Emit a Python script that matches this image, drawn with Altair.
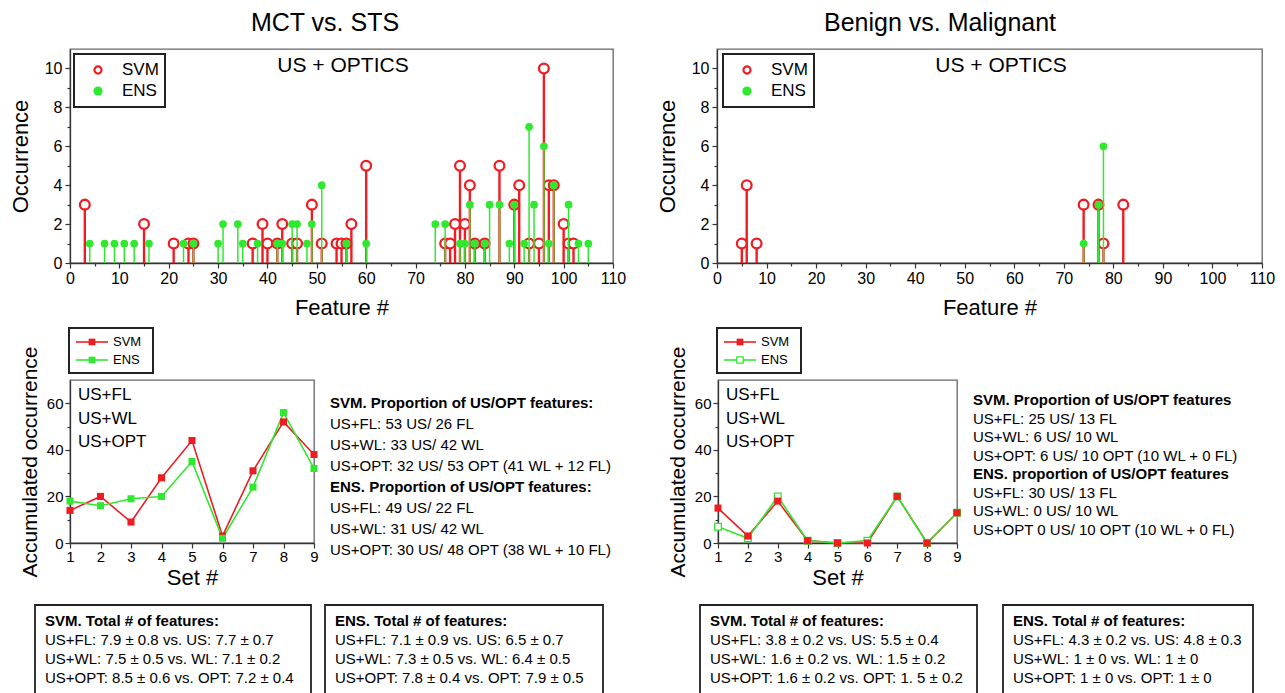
import altair as alt
import pandas as pd

FONT = "Liberation Sans"
RED = "#ee1d24"
GREEN = "#30e830"
FRAME = "#666666"
AXC = "#333333"

# ---------------- data ----------------
# MCT vs. STS  (US + OPTICS)
mct_svm_feature = [3, 15, 21, 24, 25, 37, 39, 40, 42, 43, 45, 46, 49, 51, 54, 55, 56, 57, 60,
                   76, 77, 78, 79, 80, 81, 82, 84, 87, 90, 91, 93, 95, 96, 97, 98, 100, 101, 102]
mct_svm_occ = [3, 2, 1, 1, 1, 1, 2, 1, 1, 2, 1, 1, 3, 1, 1, 1, 1, 2, 5,
               1, 1, 2, 5, 2, 4, 1, 1, 5, 3, 4, 1, 1, 10, 4, 4, 2, 1, 1]
mct_ens_feature = [4, 7, 9, 11, 13, 16, 23, 25, 30, 31, 34, 35, 38, 42, 43, 45, 46, 48, 49, 51,
                   56, 60, 74, 76, 79, 80, 81, 82, 84, 85, 87, 89, 90, 92, 93, 94, 96, 97, 98, 101,
                   103, 105]
mct_ens_occ = [1, 1, 1, 1, 1, 1, 1, 1, 1, 2, 2, 1, 1, 1, 1, 2, 2, 1, 2, 4,
               1, 1, 2, 2, 1, 1, 3, 1, 1, 3, 3, 1, 3, 1, 7, 3, 6, 1, 4, 3,
               1, 1]

# Benign vs. Malignant (US + OPTICS)
bm_svm_feature = [5, 6, 8, 74, 77, 78, 82]
bm_svm_occ = [1, 4, 1, 3, 3, 1, 3]
bm_ens_feature = [74, 77, 78]
bm_ens_occ = [1, 3, 6]

# Accumulated occurrence per set
sets = [1, 2, 3, 4, 5, 6, 7, 8, 9]
mct_svm_acc = [14, 20, 9, 28, 44, 3, 31, 52, 38]
mct_ens_acc = [18, 16, 19, 20, 35, 2, 24, 56, 32]
bm_svm_acc = [15, 3, 18, 1, 0, 0, 20, 0, 13]
bm_ens_acc = [7, 2, 20, 1, 0, 1, 20, 0, 13]

set_labels = ["US+FL", "US+WL", "US+OPT"]

mct_prop_lines = ["SVM. Proportion of US/OPT features:",
                  "US+FL: 53 US/ 26 FL",
                  "US+WL: 33 US/ 42 WL",
                  "US+OPT: 32 US/ 53 OPT (41 WL + 12 FL)",
                  "ENS. Proportion of US/OPT features:",
                  "US+FL: 49 US/ 22 FL",
                  "US+WL: 31 US/ 42 WL",
                  "US+OPT: 30 US/ 48 OPT (38 WL + 10 FL)"]
bm_prop_lines = ["SVM. Proportion of US/OPT features",
                 "US+FL: 25 US/ 13 FL",
                 "US+WL: 6 US/ 10 WL",
                 "US+OPT: 6 US/ 10 OPT (10 WL + 0 FL)",
                 "ENS. proportion of US/OPT features",
                 "US+FL: 30 US/ 13 FL",
                 "US+WL: 0 US/ 10 WL",
                 "US+OPT 0 US/ 10 OPT (10 WL + 0 FL)"]

box_mct_svm = ["SVM. Total # of features:",
               "US+FL: 7.9 \u00b1 0.8 vs. US: 7.7 \u00b1 0.7",
               "US+WL: 7.5 \u00b1 0.5 vs. WL: 7.1 \u00b1 0.2",
               "US+OPT: 8.5 \u00b1 0.6 vs. OPT: 7.2 \u00b1 0.4"]
box_mct_ens = ["ENS. Total # of features:",
               "US+FL: 7.1 \u00b1 0.9 vs. US: 6.5 \u00b1 0.7",
               "US+WL: 7.3 \u00b1 0.5 vs. WL: 6.4 \u00b1 0.5",
               "US+OPT: 7.8 \u00b1 0.4 vs. OPT: 7.9 \u00b1 0.5"]
box_bm_svm = ["SVM. Total # of features:",
              "US+FL: 3.8 \u00b1 0.2 vs. US: 5.5 \u00b1 0.4",
              "US+WL: 1.6 \u00b1 0.2 vs. WL: 1.5 \u00b1 0.2",
              "US+OPT: 1.6 \u00b1 0.2 vs. OPT: 1. 5 \u00b1 0.2"]
box_bm_ens = ["ENS. Total # of features:",
              "US+FL: 4.3 \u00b1 0.2 vs. US: 4.8 \u00b1 0.3",
              "US+WL: 1 \u00b1 0 vs. WL: 1 \u00b1 0",
              "US+OPT: 1 \u00b1 0 vs. OPT: 1 \u00b1 0"]

ONE = pd.DataFrame({"k": [0]})


# ---------------- helpers ----------------
def text_at(s, x, y, size, bold=False, align="left", color="black"):
    props = dict(text=s, font=FONT, fontSize=size, align=align, baseline="middle", color=color)
    if bold:
        props["fontWeight"] = "bold"
    return alt.Chart(ONE).mark_text(**props).encode(x=alt.value(x), y=alt.value(y))


def box_at(x1, x2, y1, y2, width=1.6):
    return alt.Chart(ONE).mark_rect(fill="white", stroke="#222222", strokeWidth=width).encode(
        x=alt.value(x1), x2=alt.value(x2), y=alt.value(y1), y2=alt.value(y2))


def minor_ticks(mod):
    return {"condition": {"test": f"datum.value % {mod} === 0", "value": 5}, "value": 3}


def stem_panel(svm_f, svm_o, ens_f, ens_o, heading, heading_x, sub_x, leg_x, width):
    sdf = pd.DataFrame({"feature": svm_f, "occ": svm_o})
    edf = pd.DataFrame({"feature": ens_f, "occ": ens_o})
    xs = alt.Scale(domain=[0, 110], nice=False, zero=False)
    ys = alt.Scale(domain=[0, 11], nice=False)
    xaxis = alt.Axis(values=list(range(0, 111, 5)),
                     labelExpr="datum.value % 10 === 0 ? datum.label : ''",
                     tickSize=minor_ticks(10), labelFontSize=16, labelPadding=2,
                     labelOverlap=False, labelFlush=False,
                     title="Feature #", titleFontSize=22, titleY=44, titleBaseline="middle")
    yaxis = alt.Axis(values=list(range(0, 11)),
                     labelExpr="datum.value % 2 === 0 ? datum.label : ''",
                     tickSize=minor_ticks(2), labelFontSize=16, labelPadding=3,
                     labelOverlap=False, labelFlush=False,
                     title="Occurrence", titleFontSize=22, titleX=-50, titleY=107,
                     titleBaseline="middle", titleAngle=-90)
    X = alt.X("feature:Q", scale=xs, axis=xaxis)
    Y = alt.Y("occ:Q", scale=ys, axis=yaxis)
    layers = [
        alt.Chart(sdf).mark_rule(color=RED, strokeWidth=2.4).encode(x=X, y=Y, y2=alt.datum(0)),
        alt.Chart(sdf).mark_point(shape="circle", filled=True, fill="white", stroke=RED,
                                  strokeWidth=2.3, size=95, opacity=1).encode(x=X, y=Y),
        alt.Chart(edf).mark_rule(color=GREEN, strokeWidth=1.5).encode(x=X, y=Y, y2=alt.datum(0)),
        alt.Chart(edf).mark_circle(color=GREEN, size=60, opacity=1).encode(x=X, y=Y),
        box_at(leg_x, leg_x + 91, 5, 58, width=2),
        alt.Chart(ONE).mark_point(shape="circle", filled=True, fill="white", stroke=RED,
                                  strokeWidth=2.2, size=50, opacity=1).encode(
            x=alt.value(leg_x + 24), y=alt.value(21)),
        alt.Chart(ONE).mark_circle(color=GREEN, size=85, opacity=1).encode(
            x=alt.value(leg_x + 24), y=alt.value(42)),
        text_at("SVM", leg_x + 48, 21, 17),
        text_at("ENS", leg_x + 48, 42, 17),
        text_at("US + OPTICS", sub_x, 17, 21, align="center"),
        text_at(heading, heading_x, -26, 25, align="center"),
    ]
    return alt.layer(*layers).properties(width=width, height=214)


def line_panel(svm_v, ens_v, ens_open, width, red_on_top):
    df = pd.DataFrame({"set": sets, "svm": svm_v, "ens": ens_v})
    xs = alt.Scale(domain=[1, 9], nice=False, zero=False)
    ys = alt.Scale(domain=[0, 70], nice=False)
    xaxis = alt.Axis(values=sets, tickSize=5, labelFontSize=15, labelPadding=1,
                     labelOverlap=False, labelFlush=False,
                     title="Set #", titleFontSize=22, titleY=34, titleBaseline="middle")
    yaxis = alt.Axis(values=list(range(0, 70, 10)),
                     labelExpr="datum.value % 20 === 0 ? datum.label : ''",
                     tickSize=minor_ticks(20), labelFontSize=15, labelPadding=2,
                     labelOverlap=False, labelFlush=False,
                     title="Accumulated occurrence", titleFontSize=21, titleX=-40,
                     titleY=81.5, titleBaseline="middle", titleAngle=-90)
    X = alt.X("set:Q", scale=xs, axis=xaxis)
    Ys = alt.Y("svm:Q", scale=ys, axis=yaxis)
    Ye = alt.Y("ens:Q", scale=ys, axis=yaxis)
    red_line = alt.Chart(df).mark_line(color=RED, strokeWidth=1.6).encode(x=X, y=Ys)
    green_line = alt.Chart(df).mark_line(color=GREEN, strokeWidth=1.6).encode(x=X, y=Ye)
    red_pts = alt.Chart(df).mark_point(shape="square", filled=True, color=RED, size=50,
                                       opacity=1).encode(x=X, y=Ys)
    if ens_open:
        green_pts = alt.Chart(df).mark_point(shape="square", filled=True, fill="white",
                                             stroke=GREEN, strokeWidth=1.3, size=45,
                                             opacity=1).encode(x=X, y=Ye)
        leg_green = alt.Chart(ONE).mark_point(shape="square", filled=True, fill="white",
                                              stroke=GREEN, strokeWidth=1.3, size=40, opacity=1)
    else:
        green_pts = alt.Chart(df).mark_point(shape="square", filled=True, color=GREEN, size=50,
                                             opacity=1).encode(x=X, y=Ye)
        leg_green = alt.Chart(ONE).mark_point(shape="square", filled=True, color=GREEN,
                                              size=45, opacity=1)
    leg_red = alt.Chart(ONE).mark_point(shape="square", filled=True, color=RED, size=45, opacity=1)
    pts = [green_pts, red_pts] if red_on_top else [red_pts, green_pts]
    layers = [red_line, green_line] + pts + [
        box_at(-1, 83, -52, -7, width=2),
        alt.Chart(ONE).mark_rule(color=RED, strokeWidth=1.6).encode(
            x=alt.value(6), x2=alt.value(38), y=alt.value(-38)),
        alt.Chart(ONE).mark_rule(color=GREEN, strokeWidth=1.6).encode(
            x=alt.value(6), x2=alt.value(38), y=alt.value(-20)),
        leg_red.encode(x=alt.value(22), y=alt.value(-38)),
        leg_green.encode(x=alt.value(22), y=alt.value(-20)),
        text_at("SVM", 43, -38, 13),
        text_at("ENS", 43, -20, 13),
    ]
    for i, s in enumerate(set_labels):
        layers.append(text_at(s, 8, 15 + i * 23.5, 17))
    return alt.layer(*layers).properties(width=width, height=163)


def text_panel(lines, bold_idx, y0, step, width):
    layers = [text_at(s, 10, y0 + i * step, 15, bold=(i in bold_idx)) for i, s in enumerate(lines)]
    return alt.layer(*layers).properties(width=width, height=163,
                                         view=alt.ViewBackground(stroke=None))


def boxes_panel():
    layers = []
    specs = [(box_mct_svm, -35, 241), (box_mct_ens, 255, 533),
             (box_bm_svm, 630, 907), (box_bm_ens, 933, 1183)]
    for lines, x1, x2 in specs:
        layers.append(box_at(x1, x2, 15, 140, width=1.8))
        for i, s in enumerate(lines):
            layers.append(text_at(s, x1 + 10, 31 + i * 19, 15, bold=(i == 0)))
    return alt.layer(*layers).properties(width=1190, height=100,
                                         view=alt.ViewBackground(stroke=None))


# ---------------- panels ----------------
tl = stem_panel(mct_svm_feature, mct_svm_occ, mct_ens_feature, mct_ens_occ,
                "MCT vs. STS", 255, 273, 4, 543)
tr = stem_panel(bm_svm_feature, bm_svm_occ, bm_ens_feature, bm_ens_occ,
                "Benign vs. Malignant", 223, 284, 6, 545)
bl = line_panel(mct_svm_acc, mct_ens_acc, False, 244, False)
br = line_panel(bm_svm_acc, bm_ens_acc, True, 239, True)
t1 = text_panel(mct_prop_lines, {0, 4}, 23, 21, 392)
t2 = text_panel(bm_prop_lines, {0, 4}, 20, 18.5, 300)

# With flush bounds the nested rows count as zero-height, so the spacing
# values below are the offsets between the tops of the rows.
row1 = alt.hconcat(tl, tr, spacing=104, bounds="flush")
row2 = alt.hconcat(bl, t1, br, t2, spacing=6, bounds="flush")
lower = alt.vconcat(row2, boxes_panel(), spacing=210, bounds="flush")

chart = alt.vconcat(row1, lower, spacing=331, bounds="flush").properties(
    padding={"left": 0, "top": 2, "right": 0, "bottom": 0}
).configure(font=FONT).configure_view(stroke=FRAME, strokeWidth=1.3).configure_axis(
    labelFont=FONT, titleFont=FONT, labelColor="black", titleColor="black",
    titleFontWeight="normal", grid=False, domainColor=AXC, tickColor=AXC,
    domainWidth=1.3, tickWidth=1.2
)

chart.save("out.html", embed_options={"renderer": "svg", "actions": False})
